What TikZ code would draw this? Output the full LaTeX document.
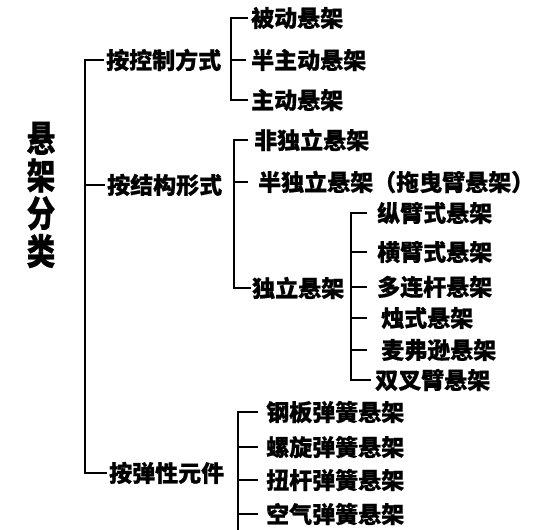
\documentclass[tikz,border=0pt]{standalone}
\usepackage{fontspec}
\newfontfamily\cjk{Noto Sans CJK SC}[BoldFeatures={FakeBold=0.7}]
\tikzset{
  ln/.style={line width=2.8pt, line join=miter},
  lbl/.style={anchor=west, inner sep=0pt, font=\cjk\bfseries\fontsize{23}{23}\selectfont},
  rootlbl/.style={inner sep=0pt, font=\cjk\bfseries\fontsize{30}{30}\selectfont}
}
\begin{document}
\begin{tikzpicture}[x=1pt,y=-1pt]
\useasboundingbox[fill=white] (0,0) rectangle (537,529);
% root
\node[rootlbl] (root) at (41,195) {\scalebox{0.95}[1.2]{\shortstack{悬\\架\\分\\类}}};
% level 1
\node[lbl] (c1) at (106,60) {按控制方式};
\node[lbl] (c2) at (107,185) {按结构形式};
\node[lbl] (c3) at (109,473) {按弹性元件};
% control
\node[lbl] (p1) at (251,18) {被动悬架};
\node[lbl] (p2) at (251,60) {半主动悬架};
\node[lbl] (p3) at (251,100) {主动悬架};
% structure
\node[lbl] (q1) at (254,140) {非独立悬架};
\node[lbl] (q2) at (258,182) {半独立悬架（拖曳臂悬架）};
\node[lbl] (q3) at (252,288) {独立悬架};
% independent
\node[lbl] (r1) at (377,213) {纵臂式悬架};
\node[lbl] (r2) at (377,252) {横臂式悬架};
\node[lbl] (r3) at (377,287) {多连杆悬架};
\node[lbl] (r4) at (381,318) {烛式悬架};
\node[lbl] (r5) at (381,350) {麦弗逊悬架};
\node[lbl] (r6) at (375,380) {双叉臂悬架};
% elastic
\node[lbl] (d1) at (266,412) {钢板弹簧悬架};
\node[lbl] (d2) at (266,447) {螺旋弹簧悬架};
\node[lbl] (d3) at (266,480) {扭杆弹簧悬架};
\node[lbl] (d4) at (266,514) {空气弹簧悬架};
% spines
\coordinate (m) at (85,200);
\coordinate (s1) at (231,60);
\coordinate (s2) at (234,200);
\coordinate (s3) at (351,287);
\coordinate (s4) at (238,440);
\coordinate (s4end) at (238,535);
% main
\draw[ln, shorten <=2pt, shorten >=2pt] (c1.west) -| (m) |- (c3.west);
\draw[ln, shorten >=2pt] (c2.west -| m) -- (c2.west);
% bracket 1
\draw[ln, shorten <=3pt, shorten >=3pt] (p1.west) -| (s1) |- (p3.west);
\draw[ln, shorten >=5pt] (p2.west -| s1) -- (p2.west);
% bracket 2
\draw[ln, shorten <=6pt, shorten >=1pt] (q1.west) -| (s2) |- (q3.west);
\draw[ln, shorten >=10pt] (q2.west -| s2) -- (q2.west);
% bracket 3
\draw[ln, shorten <=10pt, shorten >=4pt] (r1.west) -| (s3) |- (r6.west);
\draw[ln, shorten >=10pt] (r2.west -| s3) -- (r2.west);
\draw[ln, shorten >=10pt] (r3.west -| s3) -- (r3.west);
\draw[ln, shorten >=14pt] (r4.west -| s3) -- (r4.west);
\draw[ln, shorten >=14pt] (r5.west -| s3) -- (r5.west);
% bracket 4
\draw[ln, shorten <=8pt] (d1.west) -| (s4) -- (s4end);
\draw[ln, shorten >=8pt] (d2.west -| s4) -- (d2.west);
\draw[ln, shorten >=8pt] (d3.west -| s4) -- (d3.west);
\draw[ln, shorten >=8pt] (d4.west -| s4) -- (d4.west);
\end{tikzpicture}
\end{document}
